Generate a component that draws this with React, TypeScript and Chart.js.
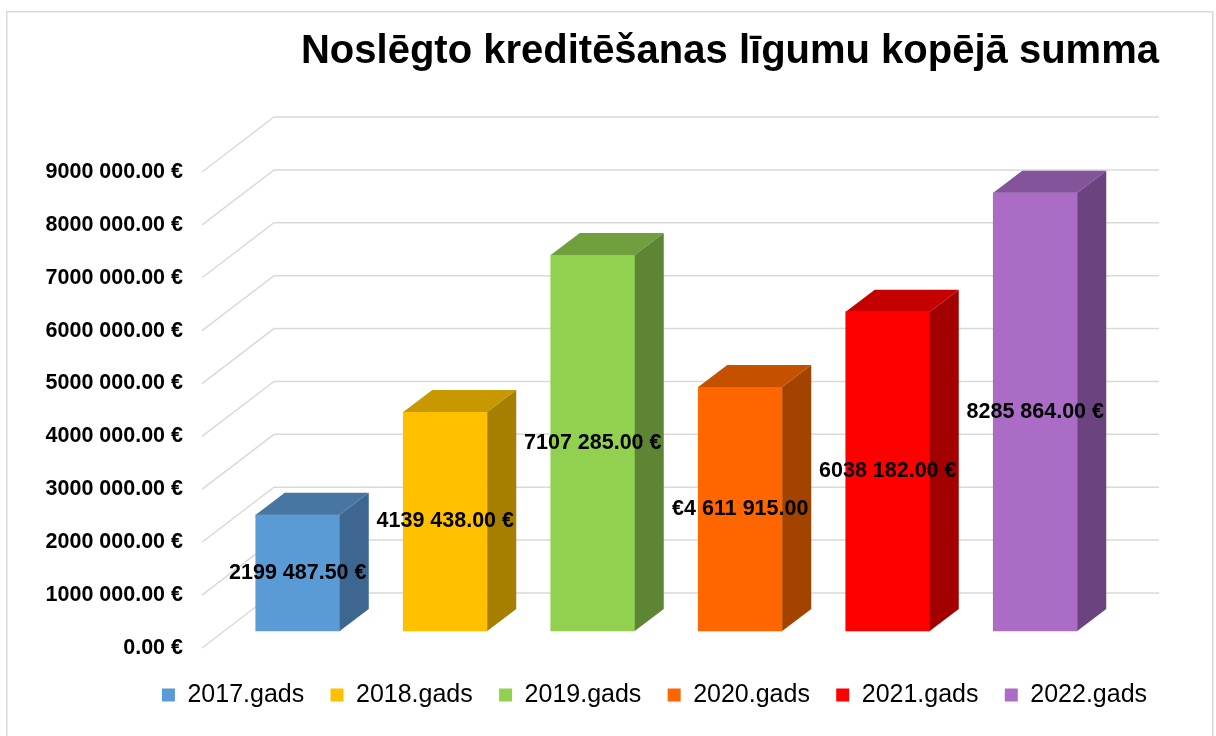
import { useEffect, useRef } from 'react';
import { Chart, registerables } from 'chart.js';

Chart.register(...registerables);

const TITLE = 'Noslēgto kreditēšanas līgumu kopējā summa';
const YEARS = ['2017.gads', '2018.gads', '2019.gads', '2020.gads', '2021.gads', '2022.gads'];
const VALUES = [2199487.5, 4139438, 7107285, 4611915, 6038182, 8285864];
const VALUE_LABELS = [
  '2199 487.50 €',
  '4139 438.00 €',
  '7107 285.00 €',
  '€4 611 915.00',
  '6038 182.00 €',
  '8285 864.00 €',
];
const FRONT_COLORS = ['#5B9BD5', '#FFC000', '#92D050', '#FF6600', '#FF0000', '#AB6CC6'];
const TOP_COLORS = ['#4876A2', '#C89800', '#70A03E', '#C55100', '#C40000', '#84549A'];
const SIDE_COLORS = ['#3D6690', '#A67E00', '#5E8533', '#A34300', '#A30000', '#6B447F'];
const Y_MIN = 0;
const Y_MAX = 9000000;
const Y_STEP = 1000000;

const FONT = "'Liberation Sans', Arial, sans-serif";

// 3D geometry (pixels)
const WALL_DX = 72; // side wall depth
const WALL_DY = 55;
const BAR_DX = -50; // bar front plane relative to back wall
const BAR_DY = 38;
const BAR_DEPTH_X = 29;
const BAR_DEPTH_Y = 22;

function fmtEuro(v: number): string {
  const [int, dec] = Number(v).toFixed(2).split('.');
  const intPart = int.length > 3 ? int.slice(0, -3) + ' ' + int.slice(-3) : int;
  return intPart + '.' + dec + ' €';
}

const threeDPlugin = {
  id: 'threeD',
  beforeDraw(chart: any) {
    const { ctx } = chart;
    ctx.save();
    ctx.strokeStyle = '#d9d9d9';
    ctx.lineWidth = 1.5;
    ctx.strokeRect(6.75, 11.75, 1206, 800);
    ctx.restore();
  },
  afterLayout(chart: any) {
    const lg = chart.legend;
    if (!lg) return;
    const c = (lg.left + lg.right) / 2;
    const d = 654.5 - c;
    lg.left += d;
    lg.right += d;
  },
  beforeDatasetsDraw(chart: any) {
    const { ctx, chartArea } = chart;
    const y = chart.scales.y;
    ctx.save();
    ctx.strokeStyle = '#d9d9d9';
    ctx.lineWidth = 1.5;
    y.ticks.forEach((t: any) => {
      const py = y.getPixelForValue(t.value);
      ctx.beginPath();
      ctx.moveTo(chartArea.left - WALL_DX, py + WALL_DY);
      ctx.lineTo(chartArea.left, py);
      ctx.lineTo(chartArea.right, py);
      ctx.stroke();
    });
    ctx.restore();
    ctx.save();
    ctx.translate(BAR_DX, BAR_DY);
  },
  afterDatasetsDraw(chart: any) {
    const { ctx } = chart;
    const meta = chart.getDatasetMeta(0);
    meta.data.forEach((el: any, i: number) => {
      const { x, y, base, width } = el.getProps(['x', 'y', 'base', 'width'], true);
      const l = x - width / 2;
      const r = x + width / 2;
      ctx.fillStyle = TOP_COLORS[i];
      ctx.beginPath();
      ctx.moveTo(l, y);
      ctx.lineTo(r, y);
      ctx.lineTo(r + BAR_DEPTH_X, y - BAR_DEPTH_Y);
      ctx.lineTo(l + BAR_DEPTH_X, y - BAR_DEPTH_Y);
      ctx.closePath();
      ctx.fill();
      ctx.fillStyle = SIDE_COLORS[i];
      ctx.beginPath();
      ctx.moveTo(r, y);
      ctx.lineTo(r + BAR_DEPTH_X, y - BAR_DEPTH_Y);
      ctx.lineTo(r + BAR_DEPTH_X, base - BAR_DEPTH_Y);
      ctx.lineTo(r, base);
      ctx.closePath();
      ctx.fill();
    });
    ctx.restore();

    ctx.save();
    ctx.fillStyle = '#000';
    ctx.font = `bold 21.5px ${FONT}`;
    ctx.textAlign = 'center';
    ctx.textBaseline = 'middle';
    meta.data.forEach((el: any, i: number) => {
      const { x, y, base } = el.getProps(['x', 'y', 'base'], true);
      ctx.fillText(VALUE_LABELS[i], x + BAR_DX, (y + base) / 2 + BAR_DY);
    });
    ctx.restore();
  },
};

export default function App() {
  const ref = useRef<HTMLCanvasElement>(null);

  useEffect(() => {
    if (!ref.current) return;
    const chart = new Chart(ref.current, {
      type: 'bar',
      data: {
        labels: YEARS,
        datasets: [
          {
            label: 'Summa',
            data: VALUES,
            backgroundColor: FRONT_COLORS,
            borderWidth: 0,
            barThickness: 84,
            clip: false as any,
          },
        ],
      },
      plugins: [threeDPlugin],
      options: {
        animation: false,
        responsive: false,
        devicePixelRatio: 1,
        layout: { padding: { top: 12, left: 30, right: 57, bottom: 18.5 } },
        plugins: {
          title: {
            display: true,
            text: TITLE,
            align: 'end',
            color: '#000',
            font: { family: FONT, size: 40, weight: 'bold', lineHeight: 1.2 },
            padding: { top: 16, bottom: 41 },
          },
          legend: {
            position: 'bottom',
            onClick: () => {},
            labels: {
              boxWidth: 13,
              boxHeight: 13,
              padding: 26.3,
              color: '#000',
              font: { family: FONT, size: 25 },
              generateLabels: () =>
                YEARS.map((t, i) => ({
                  text: t,
                  fillStyle: FRONT_COLORS[i],
                  strokeStyle: FRONT_COLORS[i],
                  lineWidth: 0,
                  hidden: false,
                  index: i,
                  datasetIndex: 0,
                })),
            },
          },
          tooltip: { enabled: false },
        },
        scales: {
          x: {
            display: true,
            ticks: { display: false },
            grid: { display: false, drawTicks: false },
            border: { display: false },
            afterFit: (s: any) => {
              s.height = 63.2;
            },
          },
          y: {
            min: Y_MIN,
            max: Y_MAX,
            ticks: {
              stepSize: Y_STEP,
              padding: 91,
              labelOffset: WALL_DY,
              color: '#000',
              font: { family: FONT, size: 21.5, weight: 'bold' },
              callback: (v: any) => fmtEuro(Number(v)),
            },
            grid: { display: false, drawTicks: false },
            border: { display: false },
            afterFit: (s: any) => {
              s.width = 244;
            },
          },
        },
      },
    });
    return () => chart.destroy();
  }, []);

  return (
    <div style={{ position: 'absolute', left: 0, top: 0, width: 1216, height: 736 }}>
      <canvas ref={ref} width={1216} height={736} style={{ display: 'block' }} />
    </div>
  );
}
